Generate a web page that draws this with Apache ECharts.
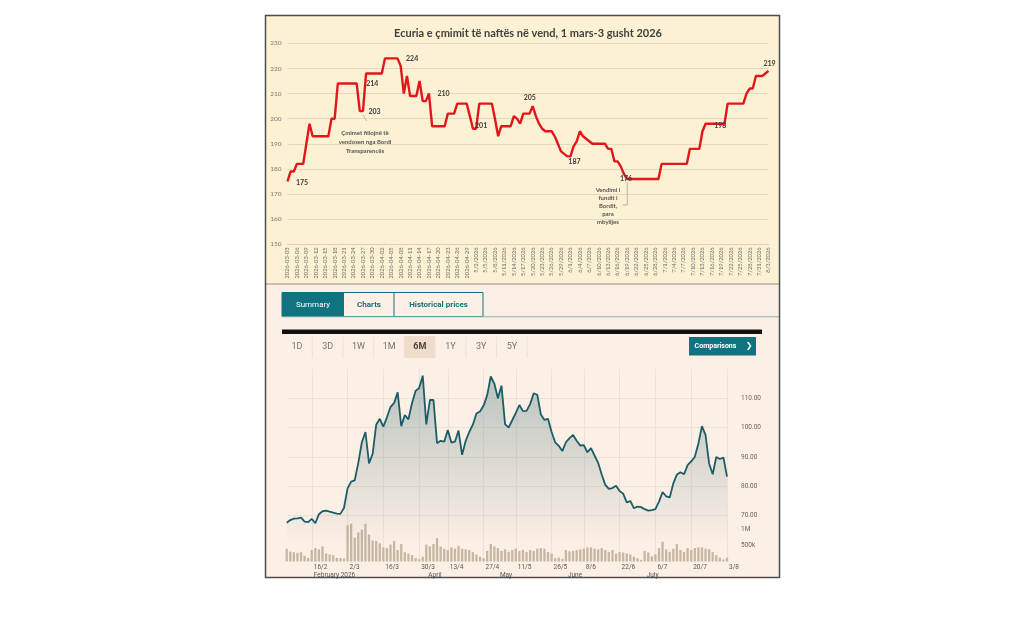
<!DOCTYPE html>
<html><head><meta charset="utf-8">
<script src="https://cdn.jsdelivr.net/npm/echarts/dist/echarts.min.js"></script>
<style>html,body{margin:0;padding:0;background:#fff}#c{width:1024px;height:626px}</style>
</head><body><div id="c"></div>
<script>
// ---------- TOP CHART DATA (daily, from 2026-03-03) ----------
const fuelTitle = 'Ecuria e çmimit të naftës në vend, 1 mars-3 gusht 2026';
const fuelPrice = [
 175,179,179,182,182,182,190,198,193,193,
 193,193,193,193,200,200,214,214,214,214,
 214,214,214,203,203,218,218,218,218,218,
 218,224,224,224,224,224,221,210,217,209,
 209,209,215,207,207,210,197,197,197,197,
 197,202,202,202,206,206,206,206,201,196,
 196,206,206,206,206,206,200,193,197,197,
 197,197,201,200,198,202,202,202,205,201,
 198,196,195,195,195,193,190,187,186,185,
 185,189,191,195,193,192,191,190,190,190,
 190,190,188,188,183,183,181,178,176,176,
 176,176,176,176,176,176,176,176,176,182,
 182,182,182,182,182,182,182,182,188,188,
 188,188,195,198,198,198,198,198,198,198,
 206,206,206,206,206,206,210,212,212,217,
 217,217,218,219
];
const fuelLabels = [
 {d:0,   text:'175', pos:'right',  off:[3,1]},
 {d:22,  text:'214', pos:'right',  off:[4,0]},
 {d:24,  text:'203', pos:'right',  off:[0,1]},
 {d:35,  text:'224', pos:'right',  off:[3,0]},
 {d:45,  text:'210', pos:'right',  off:[3,0]},
 {d:60,  text:'201', pos:'top',    off:[5,6]},
 {d:78,  text:'205', pos:'top',    off:[-3,1]},
 {d:90,  text:'187', pos:'bottom', off:[4,-4]},
 {d:108, text:'176', pos:'inside', off:[-1,0]},
 {d:138, text:'198', pos:'inside', off:[-1,2]},
 {d:153, text:'219', pos:'top',    off:[1,2]}
];
const note1 = ['Çmimet fillojnë të','vendosen nga Bordi','Transparencës'];
const note2 = ['Vendimi i','fundit i','Bordit,','para','mbylljes'];

// ---------- BOTTOM CHART DATA (trading days 5 Feb - 3 Aug 2026) ----------
const holidays = ['2026-04-03','2026-04-06','2026-05-04','2026-05-25'];
const closePrice = [
 67.6,68.5,69.0,69.1,69.3,68.0,67.8,68.9,67.4,70.5,
 71.5,71.7,71.4,71.0,70.7,70.6,72.6,79.3,81.6,82.0,
 88.0,95.0,98.5,87.8,91.0,101.0,103.0,100.3,103.5,107.0,
 108.4,112.0,100.5,104.3,102.8,108.3,112.5,113.5,117.7,101.1,
 109.4,109.4,94.7,95.5,95.2,99.2,94.9,95.2,99.0,90.7,
 95.5,98.5,101.0,104.8,105.5,107.5,111.0,117.4,115.0,110.0,
 114.3,101.2,100.0,102.5,105.0,107.7,105.6,105.7,108.0,111.7,
 111.2,104.5,102.6,103.0,98.5,95.0,93.8,92.0,95.0,96.4,
 97.5,95.5,93.9,94.0,91.6,93.0,90.5,88.0,84.0,80.5,
 79.1,79.4,80.2,78.4,77.5,74.5,75.0,72.5,73.1,72.9,
 72.2,71.7,71.9,72.2,74.8,78.0,76.6,76.2,81.0,84.0,
 84.8,84.1,87.2,88.5,90.0,94.5,100.5,97.5,87.8,84.1,
 90.0,89.3,89.8,83.3
];
const volumeM = [
 0.40,0.31,0.29,0.27,0.29,0.18,0.11,0.36,0.42,0.38,
 0.47,0.25,0.22,0.20,0.11,0.11,0.09,1.13,1.18,0.75,
 0.91,1.00,1.18,0.84,0.66,0.64,0.57,0.44,0.42,0.53,
 0.64,0.36,0.55,0.29,0.25,0.20,0.11,0.07,0.15,0.53,
 0.47,0.55,0.73,0.47,0.40,0.36,0.44,0.40,0.49,0.40,
 0.38,0.36,0.30,0.22,0.15,0.10,0.33,0.55,0.47,0.42,
 0.33,0.38,0.30,0.36,0.40,0.33,0.36,0.30,0.36,0.33,
 0.40,0.42,0.40,0.30,0.25,0.10,0.12,0.08,0.36,0.32,
 0.33,0.36,0.38,0.40,0.44,0.44,0.40,0.38,0.42,0.36,
 0.30,0.36,0.25,0.30,0.28,0.25,0.22,0.15,0.10,0.05,
 0.33,0.28,0.16,0.22,0.42,0.62,0.38,0.30,0.40,0.55,
 0.36,0.30,0.42,0.36,0.42,0.44,0.44,0.40,0.38,0.30,
 0.20,0.12,0.06,0.12
];
const tickLabels = ['16/2','2/3','16/3','30/3','13/4','27/4','11/5','26/5','8/6','22/6','6/7','20/7','3/8'];
const monthLabels = {'16/2':'February 2026','1/4':'April','1/5':'May','1/6':'June','1/7':'July'};
const priceTicks = [70,80,90,100,110];
const rangeButtons = ['1D','3D','1W','1M','6M','1Y','3Y','5Y'];
const activeRange = '6M';
const tabs = ['Summary','Charts','Historical prices'];

// ---------- categories ----------
const pad = n => (n < 10 ? '0' : '') + n;
const fuelDates = fuelPrice.map((_, d) => {
  const t = new Date(Date.UTC(2026, 2, 3 + d));
  const y = t.getUTCFullYear(), m = t.getUTCMonth() + 1, dd = t.getUTCDate();
  return m < 5 ? `${y}-${pad(m)}-${pad(dd)}` : `${m}/${dd}/${y}`;
});
const tradeDates = [];
for (let t = Date.UTC(2026,1,5); t <= Date.UTC(2026,7,3); t += 86400000) {
  const dt = new Date(t), wd = dt.getUTCDay();
  if (wd === 0 || wd === 6) continue;
  if (holidays.includes(dt.toISOString().slice(0,10))) continue;
  tradeDates.push(`${dt.getUTCDate()}/${dt.getUTCMonth()+1}`);
}

const fuelData = fuelPrice.map((v, i) => {
  const l = fuelLabels.find(x => x.d === i);
  return l ? {value: v, label: {show: true, formatter: l.text, position: l.pos, offset: l.off}} : v;
});

// ---------- graphic chrome ----------
const teal = '#0f7380';
const g = [];
g.push({type:'rect', z:-10, silent:true, shape:{x:266,y:16,width:513,height:268}, style:{fill:'#fdf1d3'}});
g.push({type:'rect', z:-10, silent:true, shape:{x:266,y:284,width:513,height:293}, style:{fill:'#fcefe5'}});
g.push({type:'line', z:5, shape:{x1:266,y1:284,x2:779,y2:284}, style:{stroke:'#b8b0a2', lineWidth:1.5}});
// annotations top chart
g.push({type:'text', z:10, style:{x:365, y:129, text:note1.join('\n'), textAlign:'center', textVerticalAlign:'top', fontSize:6, lineHeight:9, fontWeight:'bold', fill:'#555', fontFamily:'Lato'}});
g.push({type:'line', z:10, shape:{x1:362.7,y1:114.5,x2:366.7,y2:121}, style:{stroke:'#999', lineWidth:0.7}});
g.push({type:'text', z:10, style:{x:608, y:186.5, text:note2.join('\n'), textAlign:'center', textVerticalAlign:'top', fontSize:6, lineHeight:8, fontWeight:'bold', fill:'#555', fontFamily:'Lato'}});
g.push({type:'polyline', z:10, shape:{points:[[627.3,182],[627.3,205],[622.5,205]]}, style:{stroke:'#999', lineWidth:0.7, fill:'none'}});
// tabs
g.push({type:'rect', z:5, shape:{x:282,y:292.5,width:201,height:24}, style:{fill:'none', stroke:teal, lineWidth:1}});
g.push({type:'rect', z:5, shape:{x:282,y:292.5,width:62,height:24}, style:{fill:teal}});
g.push({type:'line', z:5, shape:{x1:394,y1:292.5,x2:394,y2:316.5}, style:{stroke:teal, lineWidth:1}});
const tabX = [313, 369, 438.5];
tabs.forEach((t, i) => g.push({type:'text', z:6, style:{x:tabX[i], y:304.5, text:t, textAlign:'center', textVerticalAlign:'middle', fontSize:8, fontWeight: i===0?'normal':'bold', fill: i===0?'#ffffff':teal, fontFamily:'Roboto'}}));
g.push({type:'line', z:5, shape:{x1:282,y1:316.8,x2:779,y2:316.8}, style:{stroke:'#86b3b1', lineWidth:1}});
g.push({type:'rect', z:5, shape:{x:282,y:329.5,width:480,height:4.5}, style:{fill:'#111'}});
// range buttons
rangeButtons.forEach((b, i) => {
  const x0 = 281.6 + i*30.7;
  if (b === activeRange) g.push({type:'rect', z:4, shape:{x:x0,y:336,width:30.7,height:22}, style:{fill:'#f0dccb'}});
  g.push({type:'line', z:4, shape:{x1:x0+30.7,y1:337,x2:x0+30.7,y2:358}, style:{stroke:'#efe2d7', lineWidth:1}});
  g.push({type:'text', z:6, style:{x:x0+15.4, y:347, text:b, textAlign:'center', textVerticalAlign:'middle', fontSize:9, fontWeight: b===activeRange?'bold':'normal', fill: b===activeRange?'#4a4440':'#7a716a', fontFamily:'Roboto'}});
});
g.push({type:'rect', z:5, shape:{x:689,y:337,width:67,height:18.5}, style:{fill:teal}});
g.push({type:'text', z:6, style:{x:715.5, y:346.3, text:'Comparisons', textAlign:'center', textVerticalAlign:'middle', fontSize:7, fontWeight:'bold', fill:'#fff', fontFamily:'Roboto'}});
g.push({type:'text', z:6, style:{x:749, y:346.3, text:'❯', textAlign:'center', textVerticalAlign:'middle', fontSize:8, fontWeight:'bold', fill:'#fff', fontFamily:'DejaVu Sans'}});
// panel border
g.push({type:'rect', z:20, shape:{x:265.5,y:15.5,width:514,height:562}, style:{fill:'none', stroke:'#4d4d4d', lineWidth:1.5}});

const isTick = (i, v) => tickLabels.includes(v);
const gridLineCol = '#ede2d8';

const option = {
  animation: false,
  backgroundColor: '#ffffff',
  title: {text: fuelTitle, left: 523, top: 23, textAlign: 'center',
    textStyle: {fontSize: 11, fontWeight: 'bold', color: '#404040', fontFamily: 'Lato'}},
  grid: [
    {left: 287.5, right: 1024-768.5, top: 43.3, bottom: 626-244.3, containLabel:false, outerBoundsMode:'none'},
    {left: 286.7, right: 297, top: 368.9, bottom: 626-545, containLabel:false, outerBoundsMode:'none'},
    {left: 286.7, right: 297, top: 513.5, bottom: 626-561.5, containLabel:false, outerBoundsMode:'none'}
  ],
  xAxis: [
    {gridIndex:0, type:'category', data:fuelDates, boundaryGap:false,
     axisLine:{lineStyle:{color:'#dcd3ba'}}, axisTick:{show:false},
     axisLabel:{interval:2, rotate:90, fontSize:5.8, color:'#707070', margin:3, fontFamily:'Lato'},
     splitLine:{show:false}},
    {gridIndex:1, type:'category', data:tradeDates, boundaryGap:false,
     axisLine:{show:false}, axisTick:{show:false}, axisLabel:{show:false},
     splitLine:{show:true, interval:isTick, lineStyle:{color:gridLineCol, width:1}}},
    {gridIndex:2, type:'category', data:tradeDates, boundaryGap:false,
     axisLine:{show:false}, axisTick:{show:false},
     axisLabel:{interval:isTick, align:'left', padding:[0,0,0,2], margin:2, fontSize:6.5, color:'#5c5651', fontFamily:'Roboto'},
     splitLine:{show:true, interval:isTick, lineStyle:{color:gridLineCol, width:1}}},
    {gridIndex:2, type:'category', data:tradeDates, boundaryGap:false, position:'bottom', offset:8,
     axisLine:{show:false}, axisTick:{show:false},
     axisLabel:{interval:(i,v)=>v in monthLabels, formatter:v=>monthLabels[v]||'', align:'left', padding:[0,0,0,2], margin:2, fontSize:6.5, color:'#5c5651', fontFamily:'Roboto'},
     splitLine:{show:false}}
  ],
  yAxis: [
    {gridIndex:0, type:'value', min:150, max:230, interval:10,
     axisLine:{show:false}, axisTick:{show:false},
     axisLabel:{fontSize:6.5, color:'#7a7a7a', margin:6, fontFamily:'Lato'},
     splitLine:{lineStyle:{color:'#e3d9be', width:1}}},
    {gridIndex:1, type:'value', position:'right', min:60, max:120, interval:10,
     axisLine:{show:false}, axisTick:{show:false},
     axisLabel:{margin:14, fontSize:6.5, color:'#6a635d', fontFamily:'Roboto',
       formatter:v => priceTicks.includes(v) ? v.toFixed(2) : ''},
     splitLine:{lineStyle:{color:['rgba(0,0,0,0)',gridLineCol,gridLineCol,gridLineCol,gridLineCol,gridLineCol,'rgba(0,0,0,0)']}}},
    {gridIndex:2, type:'value', position:'right', min:0, max:1.5, interval:0.5,
     axisLine:{show:false}, axisTick:{show:false}, splitLine:{show:false},
     axisLabel:{margin:14, fontSize:6.5, color:'#6a635d', fontFamily:'Roboto',
       formatter:v => v === 0.5 ? '500k' : (v === 1 ? '1M' : '')}}
  ],
  series: [
    {type:'line', xAxisIndex:0, yAxisIndex:0, data:fuelData, silent:true,
     symbol:'circle', symbolSize:1, showSymbol:true, showAllSymbol:true,
     itemStyle:{color:'rgba(0,0,0,0)'},
     lineStyle:{color:'#e3161b', width:2.4},
     label:{show:false, fontSize:7, fontWeight:'bold', color:'#3d3d3d', fontFamily:'Lato'},
     z:3},
    {type:'line', xAxisIndex:1, yAxisIndex:1, data:closePrice, silent:true,
     symbol:'none', lineStyle:{color:'#1a5d68', width:1.8},
     areaStyle:{color:{type:'linear', x:0, y:0, x2:0, y2:1, colorStops:[
       {offset:0, color:'rgba(28,90,100,0.42)'}, {offset:1, color:'rgba(28,90,100,0)'}]}}},
    {type:'bar', xAxisIndex:2, yAxisIndex:2, data:volumeM, silent:true,
     barWidth:2.3, itemStyle:{color:'#c6b6a2'}}
  ],
  graphic: {elements: g}
};
const chart = echarts.init(document.getElementById('c'));
chart.setOption(option);
</script>
</body></html>
